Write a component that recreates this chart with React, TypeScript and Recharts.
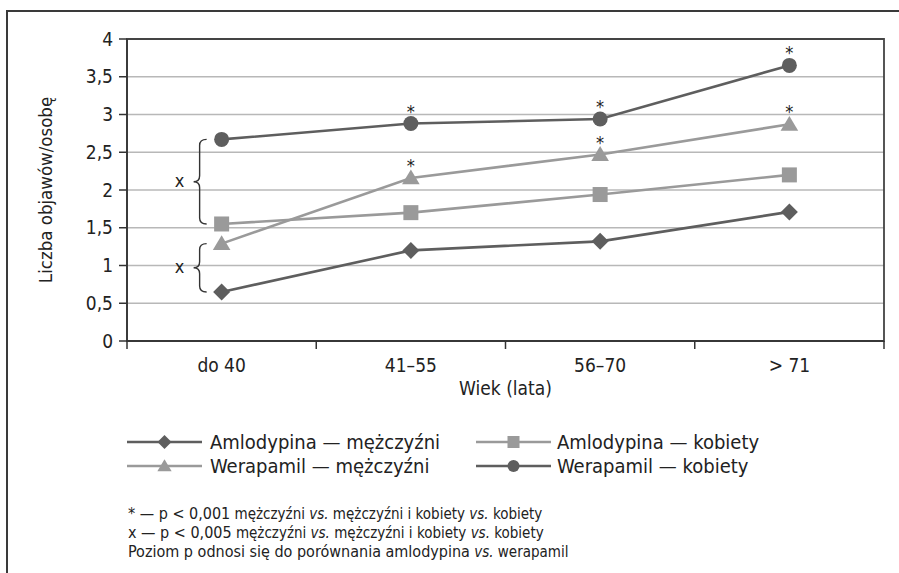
import React from 'react';
import { LineChart, Line, XAxis, YAxis, CartesianGrid, ReferenceLine, ReferenceArea, LabelList } from 'recharts';

const categories = ['do 40', '41–55', '56–70', '> 71'];
const amlodypinaM = [0.65, 1.2, 1.32, 1.71];
const amlodypinaK = [1.55, 1.7, 1.94, 2.2];
const werapamilM = [1.29, 2.16, 2.47, 2.87];
const werapamilK = [2.67, 2.88, 2.94, 3.65];
const werapamilMSig = ['', '*', '*', '*'];
const werapamilKSig = ['', '*', '*', '*'];
const yTicks = [0, 0.5, 1, 1.5, 2, 2.5, 3, 3.5, 4];
const seriesNames = ['Amlodypina — mężczyźni', 'Amlodypina — kobiety', 'Werapamil — mężczyźni', 'Werapamil — kobiety'];
const xAxisTitle = 'Wiek (lata)';
const yAxisTitle = 'Liczba objawów/osobę';
const footnotes = [
  { mark: '* — p < 0,001', rest: [' mężczyźni ', 'vs.', ' mężczyźni i kobiety ', 'vs.', ' kobiety'] },
  { mark: 'x — p < 0,005', rest: [' mężczyźni ', 'vs.', ' mężczyźni i kobiety ', 'vs.', ' kobiety'] },
  { mark: 'Poziom p odnosi się do porównania amlodypina', rest: [' ', 'vs.', ' werapamil'] },
];

const data = categories.map((c, i) => ({
  cat: c,
  amM: amlodypinaM[i],
  amK: amlodypinaK[i],
  weM: werapamilM[i],
  weK: werapamilK[i],
  weMSig: werapamilMSig[i],
  weKSig: werapamilKSig[i],
}));

const FONT = '"Liberation Sans Narrow", "Arial Narrow", "DejaVu Sans Condensed", sans-serif';
const DARK = '#5e5e5e';
const LIGHT = '#9a9a9a';
const W = 899;
const H = 573;
const M = { top: 39, right: 15, left: 57, bottom: 172 };
const Y_W = 70;
const X_H = 60;
const PLOT_W = W - M.left - Y_W - M.right;
const BAND = PLOT_W / categories.length;

type Shape = 'diamond' | 'square' | 'triangle' | 'circle';

const marker = (shape: Shape, cx: number, cy: number, color: string, s: number, key?: string) => {
  if (shape === 'diamond') {
    return <polygon key={key} points={`${cx},${cy - s} ${cx + s},${cy} ${cx},${cy + s} ${cx - s},${cy}`} fill={color} />;
  }
  if (shape === 'square') {
    return <rect key={key} x={cx - s} y={cy - s} width={2 * s} height={2 * s} fill={color} />;
  }
  if (shape === 'triangle') {
    return <polygon key={key} points={`${cx},${cy - s * 1.05} ${cx + s * 1.1},${cy + s * 0.8} ${cx - s * 1.1},${cy + s * 0.8}`} fill={color} />;
  }
  return <circle key={key} cx={cx} cy={cy} r={s} fill={color} />;
};

const series: { key: string; name: string; color: string; shape: Shape; size: number; legendSize: number; sig?: string }[] = [
  { key: 'amM', name: seriesNames[0], color: DARK, shape: 'diamond', size: 8.5, legendSize: 7 },
  { key: 'amK', name: seriesNames[1], color: LIGHT, shape: 'square', size: 7.5, legendSize: 6 },
  { key: 'weM', name: seriesNames[2], color: LIGHT, shape: 'triangle', size: 8, legendSize: 6.5, sig: 'weMSig' },
  { key: 'weK', name: seriesNames[3], color: DARK, shape: 'circle', size: 7.5, legendSize: 6, sig: 'weKSig' },
];

const XTick = (props: any) => {
  const { x, y, payload } = props;
  const last = payload.value === categories[categories.length - 1];
  return (
    <g>
      <line x1={x - BAND / 2} y1={y} x2={x - BAND / 2} y2={y + 8} stroke="#333" strokeWidth={1.5} />
      {last && <line x1={x + BAND / 2} y1={y} x2={x + BAND / 2} y2={y + 8} stroke="#333" strokeWidth={1.5} />}
      <text x={x} y={y + 31} textAnchor="middle" fontSize={19} fill="#222" fontFamily={FONT}>
        {payload.value}
      </text>
    </g>
  );
};

const SigLabel = (props: any) => {
  const { x, y, value } = props;
  if (!value) return null;
  return (
    <text x={x} y={y - 6} textAnchor="middle" fontSize={18} fill="#222" fontFamily={FONT}>
      {value}
    </text>
  );
};

const Brace = (props: any) => {
  const { x1, y1, y2 } = props;
  const top = Math.min(y1, y2);
  const bot = Math.max(y1, y2);
  const x = x1 - 22;
  const mid = (top + bot) / 2;
  const r = 6;
  const d = `M ${x + 7} ${top} Q ${x} ${top} ${x} ${top + r} L ${x} ${mid - r} Q ${x} ${mid} ${x - 6} ${mid} Q ${x} ${mid} ${x} ${mid + r} L ${x} ${bot - r} Q ${x} ${bot} ${x + 7} ${bot}`;
  return (
    <g>
      <path d={d} fill="none" stroke="#333" strokeWidth={1.4} />
      <text x={x - 20} y={mid + 5} textAnchor="middle" fontSize={18} fill="#222" fontFamily={FONT}>x</text>
    </g>
  );
};

const YLabel = (props: any) => {
  const vb = props.viewBox || { x: M.left, y: M.top, width: Y_W, height: 302 };
  const cx = vb.x - 12;
  const cy = vb.y + vb.height / 2;
  return (
    <text x={cx} y={cy} transform={`rotate(-90 ${cx} ${cy})`} textAnchor="middle" dominantBaseline="central" fontSize={18.5} fill="#222" fontFamily={FONT}>
      {yAxisTitle}
    </text>
  );
};

const legendPos = [
  { lx: 127, tx: 210, y: 442 },
  { lx: 476, tx: 557, y: 442 },
  { lx: 127, tx: 210, y: 466 },
  { lx: 476, tx: 557, y: 466 },
];

export default function App() {
  return (
    <div style={{ position: 'absolute', left: 0, top: 0, width: W, height: H, background: '#fff', overflow: 'hidden' }}>
      <div style={{ position: 'absolute', left: 6, top: 10, width: W, height: H, borderLeft: '2px solid #3a3a3a', borderTop: '2px solid #3a3a3a' }} />
      <div style={{ position: 'absolute', left: 0, top: 0 }}>
        <LineChart width={W} height={H} data={data} margin={M}>
          <CartesianGrid vertical={false} stroke="#b8b8b8" strokeWidth={1.5} />
          <ReferenceArea y1={0} y2={4} fill="none" stroke="#444" strokeWidth={1.8} ifOverflow="visible" />
          <XAxis
            dataKey="cat"
            scale="band"
            height={X_H}
            tickLine={false}
            tickSize={0}
            tickMargin={0}
            axisLine={{ stroke: '#333', strokeWidth: 1.5 }}
            tick={<XTick />}
            interval={0}
            label={{ value: xAxisTitle, position: 'insideBottom', offset: 6, fontSize: 19, fill: '#222', fontFamily: FONT }}
          />
          <YAxis
            width={Y_W}
            domain={[0, 4]}
            ticks={yTicks}
            interval={0}
            tickSize={8}
            tickMargin={6}
            axisLine={{ stroke: '#333', strokeWidth: 1.5 }}
            tickLine={{ stroke: '#333', strokeWidth: 1.5 }}
            tick={{ fontSize: 19, fill: '#222', fontFamily: FONT }}
            tickFormatter={(v: number) => String(v).replace('.', ',')}
            label={<YLabel />}
          />
          <ReferenceLine segment={[{ x: categories[0], y: werapamilK[0] }, { x: categories[0], y: amlodypinaK[0] }]} shape={<Brace />} ifOverflow="visible" />
          <ReferenceLine segment={[{ x: categories[0], y: werapamilM[0] }, { x: categories[0], y: amlodypinaM[0] }]} shape={<Brace />} ifOverflow="visible" />
          {series.map((s) => (
            <Line
              key={s.key}
              dataKey={s.key}
              name={s.name}
              stroke={s.color}
              strokeWidth={2.6}
              isAnimationActive={false}
              activeDot={false}
              dot={(p: any) => marker(s.shape, p.cx, p.cy, s.color, s.size, `${s.key}-${p.index}`)}
            >
              {s.sig && <LabelList dataKey={s.sig} content={<SigLabel />} />}
            </Line>
          ))}
        </LineChart>
      </div>
      <svg style={{ position: 'absolute', left: 0, top: 0 }} width={W} height={H} pointerEvents="none">
        {series.map((s, i) => {
          const p = legendPos[i];
          return (
            <g key={s.key}>
              <line x1={p.lx} y1={p.y} x2={p.lx + 75} y2={p.y} stroke={s.color} strokeWidth={2.6} />
              {marker(s.shape, p.lx + 37.5, p.y, s.color, s.legendSize)}
              <text x={p.tx} y={p.y + 7} fontSize={20} fill="#222" fontFamily={FONT}>{s.name}</text>
            </g>
          );
        })}
        {footnotes.map((f, i) => (
          <text key={i} x={128} y={519 + i * 19} fontSize={16} fill="#222" fontFamily={FONT}>
            <tspan>{f.mark}</tspan>
            {f.rest.map((r, j) => (
              <tspan key={j} fontStyle={r === 'vs.' ? 'italic' : 'normal'} fontSize={15}>{r}</tspan>
            ))}
          </text>
        ))}
      </svg>
    </div>
  );
}
